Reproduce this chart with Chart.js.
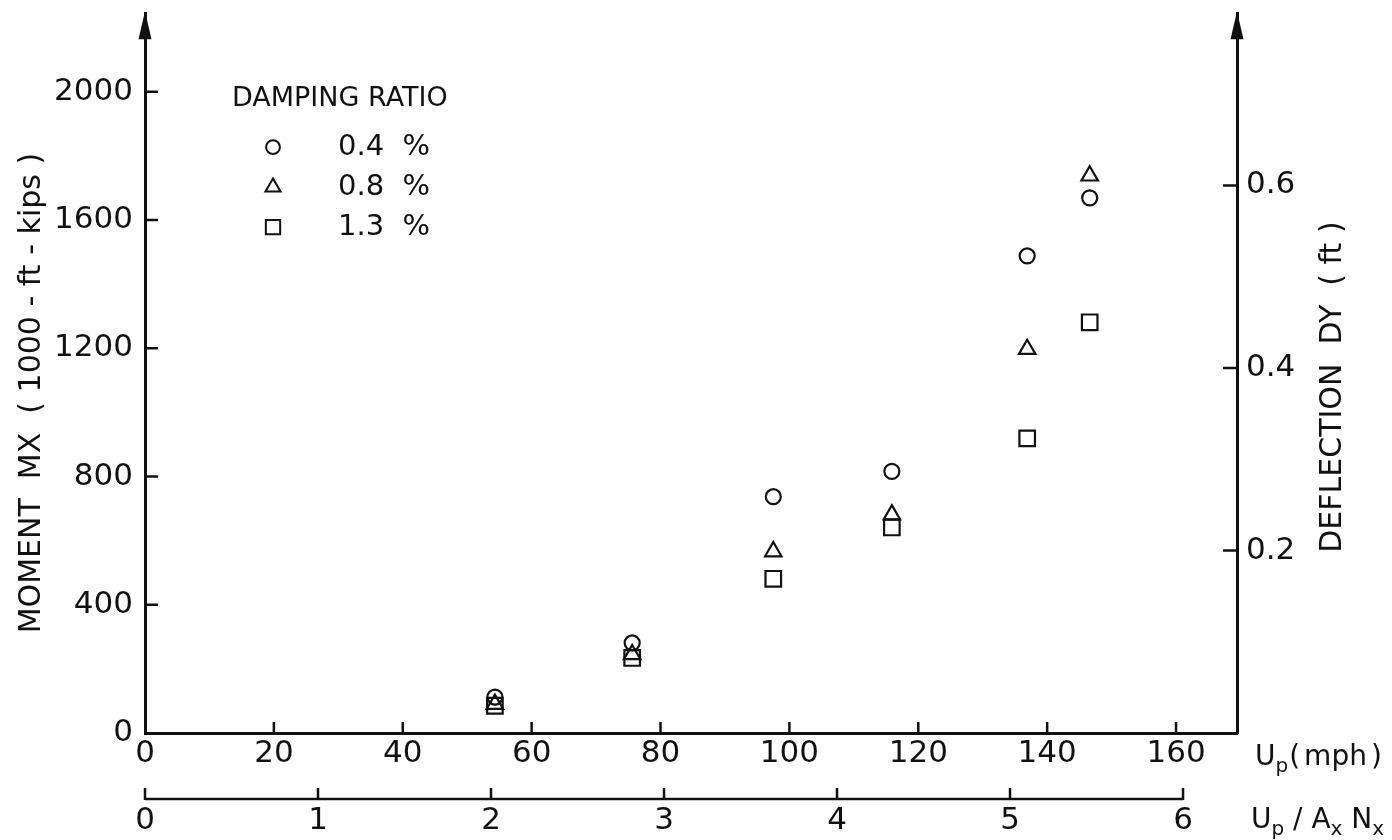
<!DOCTYPE html>
<html>
<head>
<meta charset="utf-8">
<script src="https://cdn.jsdelivr.net/npm/chart.js@4/dist/chart.umd.min.js"></script>
<style>
  html, body { margin: 0; padding: 0; background: #fff; }
  #wrap { width: 1392px; height: 840px; }
</style>
</head>
<body>
<div id="wrap"><canvas id="c" width="1392" height="840"></canvas></div>
<script>
// Wind speed of the test runs (mph)
const speedMph = [54.3, 75.6, 97.5, 115.9, 136.9, 146.6];

// Peak moment MX (1000 ft-kips) for each damping ratio
const moment04 = [112, 281, 737, 816, 1488, 1669];
const moment08 = [90, 245, 566, 681, 1197, 1738];
const moment13 = [85, 234, 481, 641, 919, 1281];

const dampingLabels = ['0.4  %', '0.8  %', '1.3  %'];

// Axis tick values
const speedTicks = [0, 20, 40, 60, 80, 100, 120, 140, 160];
const reducedTicks = [0, 1, 2, 3, 4, 5, 6];
const momentTicks = [0, 200, 400, 600, 800, 1000, 1200, 1400, 1600, 1800, 2000];
const momentLabels = [0, 400, 800, 1200, 1600, 2000];
const deflectionTicks = [0.2, 0.4, 0.6];

const ink = '#111';
const family = '"DejaVu Sans", "Liberation Sans", sans-serif';
const tickFont = { family: family, size: 31 };

// Draws inward tick marks, axis arrows, the reduced-velocity axis,
// rotated axis titles, unit labels and the damping legend.
const decor = {
  id: 'decor',
  afterDraw(chart) {
    const { ctx, chartArea: ca, scales } = chart;
    const { x, y, y2, x2 } = scales;
    ctx.save();
    ctx.strokeStyle = ink;
    ctx.fillStyle = ink;
    ctx.lineWidth = 2.5;

    ctx.beginPath();
    y.ticks.forEach(t => {
      if (t.value === 0) return;
      const p = y.getPixelForValue(t.value);
      ctx.moveTo(ca.left, p); ctx.lineTo(ca.left + 13, p);
    });
    y2.ticks.forEach(t => {
      const p = y2.getPixelForValue(t.value);
      ctx.moveTo(ca.right, p); ctx.lineTo(ca.right - 14, p);
    });
    x.ticks.forEach(t => {
      if (t.value === 0) return;
      const p = x.getPixelForValue(t.value);
      ctx.moveTo(p, ca.bottom); ctx.lineTo(p, ca.bottom - 11);
    });
    ctx.stroke();

    // arrow heads on both vertical axes
    [ca.left, ca.right].forEach(ax => {
      ctx.beginPath();
      ctx.moveTo(ax, ca.top - 2);
      ctx.lineTo(ax - 6.5, ca.top + 26);
      ctx.lineTo(ax + 6.5, ca.top + 26);
      ctx.closePath();
      ctx.fill();
    });

    // reduced velocity axis line with upward ticks
    const ly = x2.top + 16;
    const x0 = x2.getPixelForValue(reducedTicks[0]);
    const x6 = x2.getPixelForValue(reducedTicks[reducedTicks.length - 1]);
    ctx.beginPath();
    ctx.moveTo(x0, ly); ctx.lineTo(x6, ly);
    reducedTicks.forEach(v => {
      const p = x2.getPixelForValue(v);
      ctx.moveTo(p, ly + 1); ctx.lineTo(p, ly - 11);
    });
    ctx.stroke();

    // rotated axis titles
    ctx.font = '30px ' + family;
    ctx.textAlign = 'center';
    ctx.textBaseline = 'middle';
    ctx.save();
    ctx.translate(32, (ca.top + ca.bottom) / 2 + 20);
    ctx.rotate(-Math.PI / 2);
    ctx.fillText('MOMENT  MX  ( 1000 - ft - kips )', 0, 0);
    ctx.restore();
    ctx.save();
    ctx.translate(1333, (ca.top + ca.bottom) / 2 + 14);
    ctx.rotate(-Math.PI / 2);
    ctx.fillText('DEFLECTION  DY  ( ft )', 0, 0);
    ctx.restore();

    // unit labels with subscripts
    ctx.textAlign = 'left';
    ctx.textBaseline = 'alphabetic';
    const run = (parts, px, py) => {
      parts.forEach(([txt, sub, gap]) => {
        ctx.font = (sub ? '20px ' : '28px ') + family;
        ctx.fillText(txt, px, py + (sub ? 7 : 0));
        px += ctx.measureText(txt).width + (gap || 0);
      });
    };
    run([['U', 0], ['p', 1, 1], ['(', 0, 4], ['mph', 0, 4], [')', 0]], ca.right + 18, ca.bottom + 32);
    run([['U', 0], ['p', 1], [' / A', 0], ['x', 1], [' N', 0], ['x', 1]], ca.right + 14, x2.top + 45);

    // damping ratio legend
    const lx = ca.left + 128;
    ctx.font = '27px ' + family;
    ctx.textBaseline = 'middle';
    ctx.fillText('DAMPING RATIO', ca.left + 87, ca.top + 86);
    chart.data.datasets.forEach((ds, i) => {
      const ry = ca.top + 134 + i * 40;
      ctx.lineWidth = 2;
      ctx.strokeStyle = ink;
      ctx.fillStyle = 'rgba(0,0,0,0)';
      Chart.helpers.drawPoint(ctx, {
        pointStyle: ds.pointStyle, radius: ds.pointRadius * 0.92,
        rotation: 0, borderWidth: 2
      }, lx, ry);
      ctx.fillStyle = ink;
      ctx.font = '29px ' + family;
      ctx.fillText(ds.label, ca.left + 193, ry);
    });
    ctx.restore();
  }
};

const markerBase = {
  showLine: false,
  borderColor: ink,
  backgroundColor: 'rgba(0,0,0,0)',
  borderWidth: 2.2,
  xAxisID: 'x',
  yAxisID: 'y'
};

const pairs = vals => speedMph.map((s, i) => ({ x: s, y: vals[i] }));

// keep the chart area fixed: no extra padding for edge labels
const noEdgePad = s => { s.paddingTop = 0; s.paddingBottom = 0; s.paddingLeft = 0; s.paddingRight = 0; };

new Chart(document.getElementById('c'), {
  type: 'scatter',
  data: {
    datasets: [
      Object.assign({}, markerBase, { label: dampingLabels[0], data: pairs(moment04), pointStyle: 'circle', pointRadius: 7.5 }),
      Object.assign({}, markerBase, { label: dampingLabels[1], data: pairs(moment08), pointStyle: 'triangle', pointRadius: 9.5 }),
      Object.assign({}, markerBase, { label: dampingLabels[2], data: pairs(moment13), pointStyle: 'rect', pointRadius: 11 })
    ]
  },
  options: {
    responsive: false,
    animation: false,
    devicePixelRatio: 1,
    layout: { padding: { top: 10, left: 0, right: 0, bottom: 0 } },
    plugins: { legend: { display: false }, tooltip: { enabled: false } },
    scales: {
      x: {
        type: 'linear', position: 'bottom', weight: 0,
        min: 0, max: 169.46,
        afterBuildTicks: s => { s.ticks = speedTicks.map(v => ({ value: v })); },
        ticks: { font: tickFont, color: ink, padding: -6, maxRotation: 0, autoSkip: false },
        grid: { display: false },
        border: { display: true, color: ink, width: 3 },
        afterFit: s => { s.height = 50; noEdgePad(s); }
      },
      x2: {
        type: 'linear', position: 'bottom', weight: 1,
        min: 0, max: 6.312,
        afterBuildTicks: s => { s.ticks = reducedTicks.map(v => ({ value: v })); },
        ticks: { font: tickFont, color: ink, padding: 11, maxRotation: 0, autoSkip: false },
        grid: { display: false },
        border: { display: false },
        afterFit: s => { s.height = 57; noEdgePad(s); }
      },
      y: {
        type: 'linear', position: 'left',
        min: 0, max: 2245,
        afterBuildTicks: s => { s.ticks = momentTicks.map(v => ({ value: v })); },
        ticks: {
          font: tickFont, color: ink, padding: 4, autoSkip: false,
          callback: v => momentLabels.includes(v) ? String(v) : null
        },
        grid: { display: false },
        border: { display: true, color: ink, width: 3 },
        afterFit: s => { s.width = 145; noEdgePad(s); }
      },
      y2: {
        type: 'linear', position: 'right',
        min: 0, max: 0.7887,
        afterBuildTicks: s => { s.ticks = deflectionTicks.map(v => ({ value: v })); },
        ticks: {
          font: tickFont, color: ink, padding: 1, autoSkip: false,
          callback: v => v.toFixed(1)
        },
        grid: { display: false },
        border: { display: true, color: ink, width: 3 },
        afterFit: s => { s.width = 155; noEdgePad(s); }
      }
    }
  },
  plugins: [decor]
});
</script>
</body>
</html>
